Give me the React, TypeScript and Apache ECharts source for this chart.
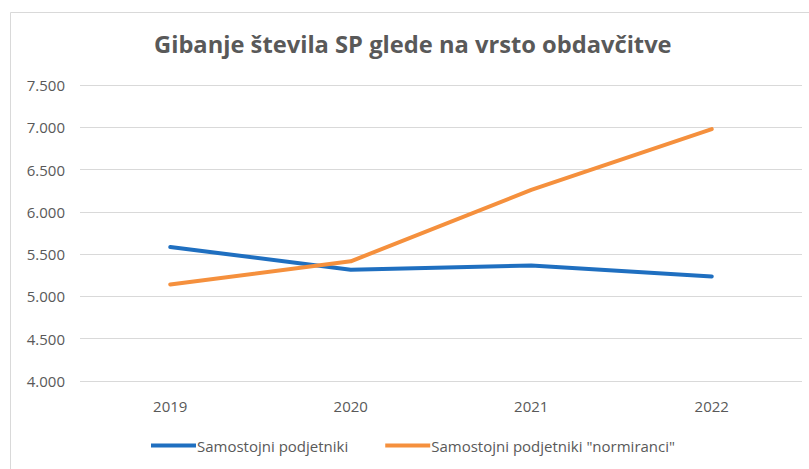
import React, { useEffect, useRef } from "react";
import * as echarts from "echarts";

const categories = ["2019", "2020", "2021", "2022"];
const seriesNames = ["Samostojni podjetniki", 'Samostojni podjetniki "normiranci"'];
const samostojni = [5584, 5316, 5367, 5237];
const normiranci = [5142, 5415, 6260, 6979];
const yMin = 4000;
const yMax = 7500;
const yStep = 500;
const title = "Gibanje števila SP glede na vrsto obdavčitve";

const fmt = (v: number) => {
  const s = Math.round(v).toString();
  return s.length > 3 ? s.slice(0, s.length - 3) + "." + s.slice(-3) : s;
};

export default function App() {
  const ref = useRef<HTMLDivElement>(null);
  useEffect(() => {
    document.body.style.margin = "0";
    const chart = echarts.init(ref.current!, null, { renderer: "svg" });
    const font = "Open Sans, Noto Sans, sans-serif";
    chart.setOption({
      animation: false,
      backgroundColor: "#ffffff",
      title: {
        text: title,
        left: 149,
        top: 27,
        textStyle: { fontFamily: font, fontSize: 23.7, fontWeight: "bold", color: "#595959" },
      },
      graphic: [
        {
          type: "rect",
          shape: { x: 10.5, y: 12.5, width: 820, height: 480 },
          style: { fill: "none", stroke: "#d9d9d9", lineWidth: 1 },
          silent: true,
        },
      ],
      legend: {
        top: 433,
        left: 146,
        itemWidth: 45,
        itemHeight: 4,
        itemGap: 37,
        icon: "rect",
        textStyle: { fontFamily: font, fontSize: 15, color: "#595959", padding: [0, 0, 0, -4] },
        data: seriesNames,
      },
      grid: { left: 80, right: 7, top: 85, bottom: 88 },
      xAxis: {
        type: "category",
        data: categories,
        boundaryGap: true,
        axisLine: { show: false },
        axisTick: { show: false },
        axisLabel: { fontFamily: font, fontSize: 15, color: "#595959", margin: 17 },
      },
      yAxis: {
        type: "value",
        min: yMin,
        max: yMax,
        interval: yStep,
        axisLine: { show: false },
        axisTick: { show: false },
        splitLine: { lineStyle: { color: "#d9d9d9", width: 1 } },
        axisLabel: { fontFamily: font, fontSize: 15, color: "#595959", margin: 15, formatter: fmt },
      },
      series: [
        {
          name: seriesNames[0],
          type: "line",
          data: samostojni,
          symbol: "none",
          lineStyle: { width: 4, color: "#1f6fc0", cap: "round" },
          itemStyle: { color: "#1f6fc0" },
        },
        {
          name: seriesNames[1],
          type: "line",
          data: normiranci,
          symbol: "none",
          lineStyle: { width: 4, color: "#f5903d", cap: "round" },
          itemStyle: { color: "#f5903d" },
        },
      ],
    });
    return () => chart.dispose();
  }, []);
  return <div ref={ref} style={{ width: 809, height: 469, position: "absolute", left: 0, top: 0 }} />;
}
